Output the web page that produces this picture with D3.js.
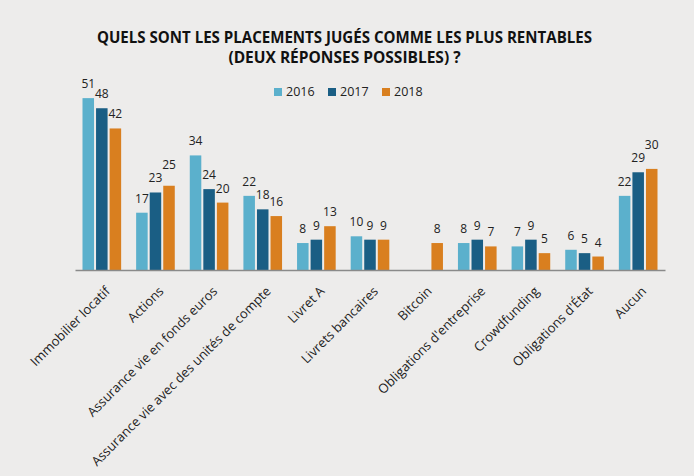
<!DOCTYPE html>
<html>
<head>
<meta charset="utf-8">
<script src="https://cdn.jsdelivr.net/npm/d3@7"></script>
<style>
  body { margin: 0; background: #edeceb; }
  svg { display: block; font-family: "Open Sans", sans-serif; }
</style>
</head>
<body>
<div id="chart"></div>
<script>
var categories = ["Immobilier locatif", "Actions", "Assurance vie en fonds euros",
  "Assurance vie avec des unités de compte", "Livret A", "Livrets bancaires", "Bitcoin",
  "Obligations d'entreprise", "Crowdfunding", "Obligations d'État", "Aucun"];
var years = ["2016", "2017", "2018"];
var values2016 = [51, 17, 34, 22, 8, 10, null, 8, 7, 6, 22];
var values2017 = [48, 23, 24, 18, 9, 9, null, 9, 9, 5, 29];
var values2018 = [42, 25, 20, 16, 13, 9, 8, 7, 5, 4, 30];
var colors = ["#5bb0cc", "#1a5e84", "#d97f1f"];
var titleLines = ["QUELS SONT LES PLACEMENTS JUGÉS COMME LES PLUS RENTABLES",
  "(DEUX RÉPONSES POSSIBLES) ?"];

function drawChart() {
  var W = 694, H = 476;
  var margin = { top: 68, right: 29, bottom: 206, left: 75 };
  var width = W - margin.left - margin.right;
  var height = H - margin.top - margin.bottom;

  var svg = d3.select("#chart")
    .append("svg")
    .attr("width", W)
    .attr("height", H);

  svg.append("rect").attr("width", W).attr("height", H).attr("fill", "#edeceb");

  // title
  svg.selectAll(".title")
    .data(titleLines)
    .enter()
    .append("text")
    .attr("class", "title")
    .attr("x", 344.5)
    .attr("y", (d, i) => 43 + i * 20)
    .attr("text-anchor", "middle")
    .attr("font-size", "15.5px")
    .attr("font-weight", "bold")
    .attr("fill", "#111")
    .text(d => d)
    .each(function(d, i) {
      var target = i === 0 ? 495 : 235;
      if (this.getComputedTextLength() > target) {
        d3.select(this).attr("textLength", target).attr("lengthAdjust", "spacingAndGlyphs");
      }
    });

  // legend
  var legend = svg.append("g").attr("transform", "translate(274,88)");
  var item = legend.selectAll("g")
    .data(years)
    .enter()
    .append("g")
    .attr("transform", (d, i) => "translate(" + (i * 54) + ",0)");
  item.append("rect")
    .attr("width", 8)
    .attr("height", 8)
    .attr("fill", (d, i) => colors[i]);
  item.append("text")
    .attr("x", 12)
    .attr("y", 8)
    .attr("font-size", "12.5px")
    .attr("fill", "#222")
    .text(d => d);

  var g = svg.append("g")
    .attr("transform", "translate(" + margin.left + "," + margin.top + ")");

  var x0 = d3.scaleBand()
    .domain(categories)
    .range([0, width])
    .paddingInner(0)
    .paddingOuter(0);

  var x1 = d3.scaleBand()
    .domain(years)
    .range([7.5, x0.bandwidth() - 7.5])
    .paddingInner(0.15);

  var y = d3.scaleLinear()
    .domain([0, 60])
    .range([height, height - 60 * 3.37]);

  var series = [values2016, values2017, values2018];
  var rows = [];
  categories.forEach(function(c, i) {
    years.forEach(function(yr, j) {
      if (series[j][i] != null) rows.push({ cat: c, year: yr, value: series[j][i], k: j });
    });
  });

  g.selectAll("rect.bar")
    .data(rows)
    .enter()
    .append("rect")
    .attr("class", "bar")
    .attr("x", d => x0(d.cat) + x1(d.year))
    .attr("y", d => y(d.value))
    .attr("width", x1.bandwidth())
    .attr("height", d => height - y(d.value))
    .attr("fill", d => colors[d.k]);

  var labels = g.selectAll("text.val")
    .data(rows)
    .enter()
    .append("text")
    .attr("class", "val")
    .attr("x", d => x0(d.cat) + x1(d.year) + x1.bandwidth() / 2)
    .attr("y", d => y(d.value) - 10)
    .attr("text-anchor", "middle")
    .attr("font-size", "12px")
    .attr("fill", "#222")
    .text(d => d.value);

  // push a label up when it sits level with or above the previous one in its group
  var prev = null;
  labels.each(function(d) {
    var el = d3.select(this);
    var w = this.getComputedTextLength();
    var cx = +el.attr("x"), cy = +el.attr("y");
    if (prev && prev.cat === d.cat) {
      var overlapX = (cx - w / 2) < (prev.cx + prev.w / 2 + 1);
      var dy = cy - prev.cy;
      if (overlapX && dy < 3 && dy > -10) {
        cy = prev.cy - 13;
        el.attr("y", cy);
      }
    }
    prev = { cat: d.cat, cx: cx, cy: cy, w: w };
  });

  var axis = g.append("g")
    .attr("transform", "translate(0," + height + ")")
    .call(d3.axisBottom(x0).tickSize(0).tickPadding(0));
  axis.select(".domain").attr("stroke", "#8a8a8a").attr("stroke-width", 1.5);
  axis.selectAll("text")
    .attr("font-family", "Open Sans, sans-serif")
    .attr("font-size", "13px")
    .attr("fill", "#222")
    .style("text-anchor", "end")
    .attr("dy", 0)
    .attr("y", 0)
    .attr("transform", "translate(9,22) rotate(-45)");
}

document.addEventListener('DOMContentLoaded', function() {
  drawChart();
});
</script>
</body>
</html>
